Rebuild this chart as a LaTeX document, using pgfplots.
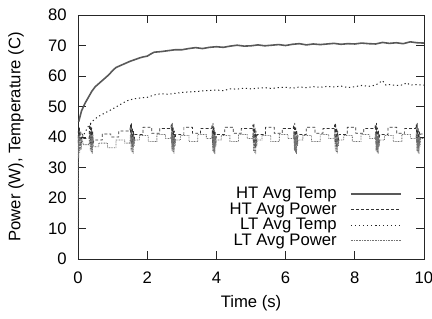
\documentclass[border=0pt]{standalone}
\usepackage{fontspec}
\setmainfont{Liberation Sans}
\usepackage{pgfplots}
\pgfplotsset{compat=1.18}
\begin{document}
\fontsize{12.5}{14}\selectfont
\begin{tikzpicture}
\useasboundingbox (-58.5pt,-44.25pt) rectangle (265.5pt,194.25pt);
\begin{axis}[
  at={(0pt,0pt)}, anchor=south west,
  scale only axis, width=259.5pt, height=183pt,
  xmin=0, xmax=10, ymin=0, ymax=80,
  xtick={0,2,...,10}, ytick={0,10,...,80},
  tick align=inside, major tick length=6pt,
  /pgf/number format/assume math mode=true,
  xlabel={Time (s)}, ylabel={Power (W), Temperature (C)},
  every axis plot/.append style={line join=round},
  axis line style={line width=0.7pt, draw=black!85},
  tick style={line width=0.7pt, black!85},
  xticklabel style={inner sep=0pt, anchor=north, yshift=-9.5pt},
  yticklabel style={inner sep=0pt, anchor=east, xshift=-8.25pt},
  every axis x label/.style={at={(axis description cs:0.5,-0.1803)}, anchor=center},
  every axis y label/.style={at={(axis description cs:-0.1792,0.5)}, rotate=90, anchor=center},
  legend cell align=right,
  legend plot pos=right,
  legend style={draw=none, fill=none, at={(0.936,0.045)}, anchor=south east, inner sep=0pt,
    nodes={inner sep=0pt}, row sep=1.2pt, column sep=10pt, font=\fontsize{12.5}{13}\selectfont},
  legend image code/.code={\draw[#1] plot coordinates {(0pt,0pt) (18.75pt,0pt) (37.5pt,0pt)};},
]
\addplot[black!65, line width=1.2pt] coordinates {
(0.02,45) (0.1,48.5) (0.2,51) (0.3,53) (0.4,55) (0.5,56.5) (0.6,57.5) (0.7,58.5) (0.8,59.5) (0.9,60.5) (1.0,61.8) (1.1,62.8) (1.2,63.3) (1.3,63.8) (1.4,64.3) (1.5,64.8) (1.6,65.2) (1.7,65.6) (1.8,66.0) (1.9,66.3) (2.0,66.5) (2.1,67.2) (2.2,67.8) (2.4,68.0) (2.6,68.3) (2.8,68.6) (3.0,68.6) (3.2,69.0) (3.4,69.3) (3.6,69.0) (3.8,69.4) (4.0,69.6) (4.2,69.4) (4.4,69.8) (4.6,70.1) (4.8,69.8) (5.0,69.9) (5.2,70.2) (5.4,69.9) (5.6,70.1) (5.8,70.3) (6.0,70.0) (6.2,70.4) (6.4,70.6) (6.6,70.2) (6.8,70.5) (7.0,70.3) (7.2,70.5) (7.4,70.7) (7.6,70.4) (7.8,70.6) (8.0,70.5) (8.2,70.8) (8.4,70.6) (8.6,70.5) (8.8,71.0) (9.0,70.7) (9.2,70.9) (9.4,70.6) (9.6,71.2) (9.8,70.9) (10.0,70.8)
};
\addlegendentry{HT Avg Temp}
\addplot[black!80, line width=0.55pt, dash pattern=on 2.2pt off 1.6pt] coordinates {
(0.00,38) (0.01,42) (0.02,37) (0.04,43) (0.06,36) (0.08,42) (0.10,38) (0.13,41) (0.16,39.5) (0.32,39.5)
(0.335,44) (0.35,38) (0.365,44.5) (0.38,37) (0.395,43) (0.41,36.5) (0.425,42) (0.44,38) (0.46,39)
(0.70,39) (0.70,41) (0.95,41) (0.95,40) (1.18,40) (1.18,42) (1.50,42)
(1.515,44) (1.53,38) (1.545,44.5) (1.56,37) (1.575,43) (1.59,36.5) (1.605,42) (1.62,38) (1.64,40.8)
(1.88,40.8) (1.88,43.2) (2.13,43.2) (2.13,41.2) (2.36,41.2) (2.36,42.8) (2.68,42.8)
(2.695,44) (2.71,38) (2.725,44.5) (2.74,37) (2.755,43) (2.77,36.5) (2.785,42) (2.80,38) (2.82,40.8)
(3.06,40.8) (3.06,43.2) (3.31,43.2) (3.31,41.2) (3.54,41.2) (3.54,42.8) (3.86,42.8)
(3.875,44) (3.89,38) (3.905,44.5) (3.92,37) (3.935,43) (3.95,36.5) (3.965,42) (3.98,38) (4.00,40.8)
(4.24,40.8) (4.24,43.2) (4.49,43.2) (4.49,41.2) (4.72,41.2) (4.72,42.8) (5.04,42.8)
(5.055,44) (5.07,38) (5.085,44.5) (5.10,37) (5.115,43) (5.13,36.5) (5.145,42) (5.16,38) (5.18,40.8)
(5.42,40.8) (5.42,43.2) (5.67,43.2) (5.67,41.2) (5.90,41.2) (5.90,42.8) (6.22,42.8)
(6.235,44) (6.25,38) (6.265,44.5) (6.28,37) (6.295,43) (6.31,36.5) (6.325,42) (6.34,38) (6.36,40.8)
(6.60,40.8) (6.60,43.2) (6.85,43.2) (6.85,41.2) (7.08,41.2) (7.08,42.8) (7.40,42.8)
(7.415,44) (7.43,38) (7.445,44.5) (7.46,37) (7.475,43) (7.49,36.5) (7.505,42) (7.52,38) (7.54,40.8)
(7.78,40.8) (7.78,43.2) (8.03,43.2) (8.03,41.2) (8.26,41.2) (8.26,42.8) (8.58,42.8)
(8.595,44) (8.61,38) (8.625,44.5) (8.64,37) (8.655,43) (8.67,36.5) (8.685,42) (8.70,38) (8.72,40.8)
(8.96,40.8) (8.96,43.2) (9.21,43.2) (9.21,41.2) (9.44,41.2) (9.44,42.8) (9.76,42.8)
(9.775,44) (9.79,38) (9.805,44.5) (9.82,37) (9.835,43) (9.85,36.5) (9.865,42) (9.88,38) (9.90,41) (10.0,41)
};
\addlegendentry{HT Avg Power}
\addplot[black!85, line width=0.75pt, dash pattern=on 0.9pt off 2.1pt] coordinates {
(0.02,36) (0.1,39) (0.2,41.5) (0.3,43.5) (0.4,45) (0.5,46) (0.6,46.8) (0.8,48) (1.0,49.2) (1.2,50.5) (1.4,51.8) (1.6,52.5) (1.8,52.8) (2.0,53) (2.2,53.8) (2.4,54.2) (2.6,54.0) (2.8,54.3) (3.0,54.6) (3.2,54.8) (3.4,54.9) (3.6,55.1) (3.8,55.3) (4.0,55.4) (4.2,55.2) (4.4,55.8) (4.6,55.7) (4.8,56.0) (5.0,55.8) (5.2,56.0) (5.4,56.2) (5.6,55.9) (5.8,56.2) (6.0,56.3) (6.2,56.0) (6.4,56.4) (6.6,56.2) (6.8,56.5) (7.0,56.3) (7.2,56.6) (7.4,56.4) (7.6,56.7) (7.8,56.2) (8.0,56.5) (8.2,56.9) (8.4,56.6) (8.6,57.0) (8.8,58.5) (8.9,57.0) (9.0,57.2) (9.2,56.9) (9.4,57.1) (9.5,57.8) (9.6,57.0) (9.8,57.2) (10,57.0)
};
\addlegendentry{LT Avg Temp}
\addplot[black!55, line width=0.6pt, dash pattern=on 0.6pt off 0.6pt] coordinates {
(0.00,10) (0.01,40) (0.02,33) (0.03,41) (0.05,35) (0.07,40) (0.09,36) (0.12,39) (0.16,37.5) (0.32,37.5)
(0.34,41.5) (0.355,35.5) (0.37,41) (0.385,35) (0.40,40) (0.415,34.5) (0.43,40.5) (0.445,37) (0.46,36.8)
(0.60,36.8) (0.60,38) (0.85,38) (0.85,36.5) (1.10,36.5) (1.10,39) (1.35,39) (1.35,38) (1.50,38)
(1.52,41.5) (1.535,35.5) (1.55,41) (1.565,35) (1.58,40) (1.595,34.5) (1.61,40.5) (1.625,37) (1.64,39)
(1.78,39) (1.78,40.5) (2.03,40.5) (2.03,38.5) (2.28,38.5) (2.28,40.8) (2.53,40.8) (2.53,39.5) (2.68,39.5)
(2.70,41.5) (2.715,35.5) (2.73,41) (2.745,35) (2.76,40) (2.775,34.5) (2.79,40.5) (2.805,37) (2.82,39)
(2.96,39) (2.96,40.5) (3.21,40.5) (3.21,38.5) (3.46,38.5) (3.46,40.8) (3.71,40.8) (3.71,39.5) (3.86,39.5)
(3.88,41.5) (3.895,35.5) (3.91,41) (3.925,35) (3.94,40) (3.955,34.5) (3.97,40.5) (3.985,37) (4.00,39)
(4.14,39) (4.14,40.5) (4.39,40.5) (4.39,38.5) (4.64,38.5) (4.64,40.8) (4.89,40.8) (4.89,39.5) (5.04,39.5)
(5.06,41.5) (5.075,35.5) (5.09,41) (5.105,35) (5.12,40) (5.135,34.5) (5.15,40.5) (5.165,37) (5.18,39)
(5.32,39) (5.32,40.5) (5.57,40.5) (5.57,38.5) (5.82,38.5) (5.82,40.8) (6.07,40.8) (6.07,39.5) (6.22,39.5)
(6.24,41.5) (6.255,35.5) (6.27,41) (6.285,35) (6.30,40) (6.315,34.5) (6.33,40.5) (6.345,37) (6.36,39)
(6.50,39) (6.50,40.5) (6.75,40.5) (6.75,38.5) (7.00,38.5) (7.00,40.8) (7.25,40.8) (7.25,39.5) (7.40,39.5)
(7.42,41.5) (7.435,35.5) (7.45,41) (7.465,35) (7.48,40) (7.495,34.5) (7.51,40.5) (7.525,37) (7.54,39)
(7.68,39) (7.68,40.5) (7.93,40.5) (7.93,38.5) (8.18,38.5) (8.18,40.8) (8.43,40.8) (8.43,39.5) (8.58,39.5)
(8.60,41.5) (8.615,35.5) (8.63,41) (8.645,35) (8.66,40) (8.675,34.5) (8.69,40.5) (8.705,37) (8.72,39)
(8.86,39) (8.86,40.5) (9.11,40.5) (9.11,38.5) (9.36,38.5) (9.36,40.8) (9.61,40.8) (9.61,39.5) (9.76,39.5)
(9.78,41.5) (9.795,35.5) (9.81,41) (9.825,35) (9.84,40) (9.855,34.5) (9.87,40.5) (9.885,37) (9.90,39.5) (10.0,39.5)
};
\addlegendentry{LT Avg Power}
\end{axis}
\end{tikzpicture}
\end{document}
